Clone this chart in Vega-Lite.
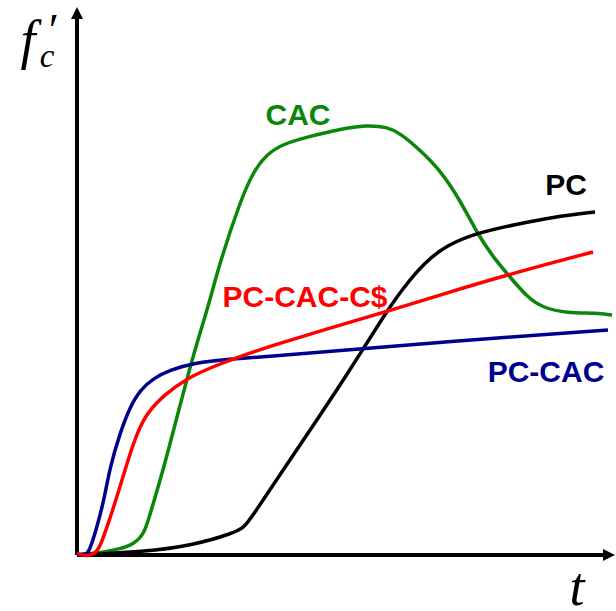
{
  "$schema": "https://vega.github.io/schema/vega-lite/v6.json",
  "width": 616,
  "height": 611,
  "padding": 0,
  "autosize": {"type": "none"},
  "background": "white",
  "config": {"view": {"stroke": null}},
  "datasets": {
    "curves": [
      {"series": "CAC", "x": 0, "y": 0}, {"series": "CAC", "x": 20, "y": 2}, {"series": "CAC", "x": 43, "y": 6}, {"series": "CAC", "x": 57, "y": 11}, {"series": "CAC", "x": 67, "y": 21}, {"series": "CAC", "x": 72, "y": 37}, {"series": "CAC", "x": 87, "y": 88}, {"series": "CAC", "x": 100, "y": 138}, {"series": "CAC", "x": 113, "y": 188}, {"series": "CAC", "x": 123, "y": 222}, {"series": "CAC", "x": 133, "y": 255}, {"series": "CAC", "x": 143, "y": 293}, {"series": "CAC", "x": 163, "y": 353}, {"series": "CAC", "x": 176, "y": 383}, {"series": "CAC", "x": 190, "y": 401}, {"series": "CAC", "x": 206, "y": 411}, {"series": "CAC", "x": 230, "y": 418}, {"series": "CAC", "x": 263, "y": 426}, {"series": "CAC", "x": 290, "y": 430}, {"series": "CAC", "x": 310, "y": 428}, {"series": "CAC", "x": 323, "y": 422}, {"series": "CAC", "x": 343, "y": 405}, {"series": "CAC", "x": 363, "y": 385}, {"series": "CAC", "x": 383, "y": 355}, {"series": "CAC", "x": 400, "y": 322}, {"series": "CAC", "x": 416, "y": 298}, {"series": "CAC", "x": 433, "y": 278}, {"series": "CAC", "x": 450, "y": 258}, {"series": "CAC", "x": 466, "y": 247}, {"series": "CAC", "x": 490, "y": 242}, {"series": "CAC", "x": 520, "y": 242}, {"series": "CAC", "x": 535, "y": 240},
      {"series": "PC", "x": 0, "y": 0}, {"series": "PC", "x": 67, "y": 3}, {"series": "PC", "x": 117, "y": 10}, {"series": "PC", "x": 157, "y": 22}, {"series": "PC", "x": 167, "y": 28}, {"series": "PC", "x": 173, "y": 35}, {"series": "PC", "x": 206, "y": 85}, {"series": "PC", "x": 240, "y": 135}, {"series": "PC", "x": 273, "y": 185}, {"series": "PC", "x": 306, "y": 238}, {"series": "PC", "x": 326, "y": 267}, {"series": "PC", "x": 348, "y": 293}, {"series": "PC", "x": 370, "y": 310}, {"series": "PC", "x": 400, "y": 322}, {"series": "PC", "x": 436, "y": 330}, {"series": "PC", "x": 476, "y": 338}, {"series": "PC", "x": 518, "y": 343},
      {"series": "PC-CAC", "x": 0, "y": 0}, {"series": "PC-CAC", "x": 8, "y": 1}, {"series": "PC-CAC", "x": 12, "y": 2}, {"series": "PC-CAC", "x": 20, "y": 28}, {"series": "PC-CAC", "x": 27, "y": 55}, {"series": "PC-CAC", "x": 33, "y": 88}, {"series": "PC-CAC", "x": 43, "y": 122}, {"series": "PC-CAC", "x": 53, "y": 148}, {"series": "PC-CAC", "x": 63, "y": 165}, {"series": "PC-CAC", "x": 77, "y": 177}, {"series": "PC-CAC", "x": 93, "y": 185}, {"series": "PC-CAC", "x": 117, "y": 192}, {"series": "PC-CAC", "x": 150, "y": 196}, {"series": "PC-CAC", "x": 200, "y": 199}, {"series": "PC-CAC", "x": 283, "y": 206}, {"series": "PC-CAC", "x": 363, "y": 213}, {"series": "PC-CAC", "x": 531, "y": 225},
      {"series": "PC-CAC-C$", "x": 0, "y": 2}, {"series": "PC-CAC-C$", "x": 7, "y": -1}, {"series": "PC-CAC-C$", "x": 17, "y": 0}, {"series": "PC-CAC-C$", "x": 23, "y": 8}, {"series": "PC-CAC-C$", "x": 30, "y": 28}, {"series": "PC-CAC-C$", "x": 40, "y": 58}, {"series": "PC-CAC-C$", "x": 50, "y": 92}, {"series": "PC-CAC-C$", "x": 60, "y": 122}, {"series": "PC-CAC-C$", "x": 70, "y": 142}, {"series": "PC-CAC-C$", "x": 87, "y": 160}, {"series": "PC-CAC-C$", "x": 110, "y": 177}, {"series": "PC-CAC-C$", "x": 140, "y": 190}, {"series": "PC-CAC-C$", "x": 167, "y": 200}, {"series": "PC-CAC-C$", "x": 200, "y": 211}, {"series": "PC-CAC-C$", "x": 250, "y": 226}, {"series": "PC-CAC-C$", "x": 308, "y": 243}, {"series": "PC-CAC-C$", "x": 363, "y": 260}, {"series": "PC-CAC-C$", "x": 433, "y": 281}, {"series": "PC-CAC-C$", "x": 516, "y": 303}
    ],
    "labels": [
      {"series": "CAC", "label": "CAC", "x": 221, "y": 430},
      {"series": "PC", "label": "PC", "x": 489, "y": 360},
      {"series": "PC-CAC-C$", "label": "PC-CAC-C$", "x": 228, "y": 248},
      {"series": "PC-CAC", "label": "PC-CAC", "x": 469, "y": 173}
    ],
    "axes": [
      {"axis": "y", "x": 0, "y": 0, "x2": 0, "y2": 538},
      {"axis": "x", "x": 0, "y": 0, "x2": 528, "y2": 0}
    ],
    "arrowUp": [{"x": 0, "y": 542}],
    "arrowRight": [{"x": 532, "y": 0}],
    "bigMath": [
      {"label": "f", "x": -49, "y": 497},
      {"label": "t", "x": 500, "y": -50}
    ],
    "prime": [{"label": "′", "x": -26, "y": 509}],
    "sub": [{"label": "c", "x": -30, "y": 488}]
  },
  "layer": [
    {
      "data": {"name": "axes"},
      "mark": {"type": "rule", "color": "black", "strokeWidth": 4},
      "encoding": {
        "x": {"field": "x", "type": "quantitative", "scale": {"domain": [-77, 539], "nice": false, "zero": false}, "axis": null},
        "y": {"field": "y", "type": "quantitative", "scale": {"domain": [-56, 555], "nice": false, "zero": false}, "axis": null},
        "x2": {"field": "x2"},
        "y2": {"field": "y2"}
      }
    },
    {
      "data": {"name": "arrowUp"},
      "mark": {"type": "point", "shape": "M-1,1L0,-1L1,1Z", "size": 144, "filled": true, "color": "black", "opacity": 1},
      "encoding": {
        "x": {"field": "x", "type": "quantitative"},
        "y": {"field": "y", "type": "quantitative"}
      }
    },
    {
      "data": {"name": "arrowRight"},
      "mark": {"type": "point", "shape": "M-1,-1L1,0L-1,1Z", "size": 144, "filled": true, "color": "black", "opacity": 1},
      "encoding": {
        "x": {"field": "x", "type": "quantitative"},
        "y": {"field": "y", "type": "quantitative"}
      }
    },
    {
      "data": {"name": "curves"},
      "mark": {"type": "line", "interpolate": "basis", "strokeWidth": 3.5},
      "encoding": {
        "x": {"field": "x", "type": "quantitative"},
        "y": {"field": "y", "type": "quantitative"},
        "color": {"field": "series", "type": "nominal", "scale": {"domain": ["CAC", "PC", "PC-CAC-C$", "PC-CAC"], "range": ["#0a870a", "#000000", "#ff0000", "#00008f"]}, "legend": null}
      }
    },
    {
      "data": {"name": "labels"},
      "mark": {"type": "text", "font": "Liberation Sans", "fontWeight": "bold", "fontSize": 30, "align": "center", "baseline": "alphabetic"},
      "encoding": {
        "x": {"field": "x", "type": "quantitative"},
        "y": {"field": "y", "type": "quantitative"},
        "text": {"field": "label"},
        "color": {"field": "series", "type": "nominal", "legend": null}
      }
    },
    {
      "data": {"name": "bigMath"},
      "mark": {"type": "text", "font": "Liberation Serif", "fontStyle": "italic", "fontSize": 54, "align": "center", "baseline": "alphabetic", "color": "black"},
      "encoding": {
        "x": {"field": "x", "type": "quantitative"},
        "y": {"field": "y", "type": "quantitative"},
        "text": {"field": "label"}
      }
    },
    {
      "data": {"name": "prime"},
      "mark": {"type": "text", "font": "Liberation Serif", "fontStyle": "italic", "fontSize": 46, "align": "center", "baseline": "alphabetic", "color": "black"},
      "encoding": {
        "x": {"field": "x", "type": "quantitative"},
        "y": {"field": "y", "type": "quantitative"},
        "text": {"field": "label"}
      }
    },
    {
      "data": {"name": "sub"},
      "mark": {"type": "text", "font": "Liberation Serif", "fontStyle": "italic", "fontSize": 33, "align": "center", "baseline": "alphabetic", "color": "black"},
      "encoding": {
        "x": {"field": "x", "type": "quantitative"},
        "y": {"field": "y", "type": "quantitative"},
        "text": {"field": "label"}
      }
    }
  ]
}
